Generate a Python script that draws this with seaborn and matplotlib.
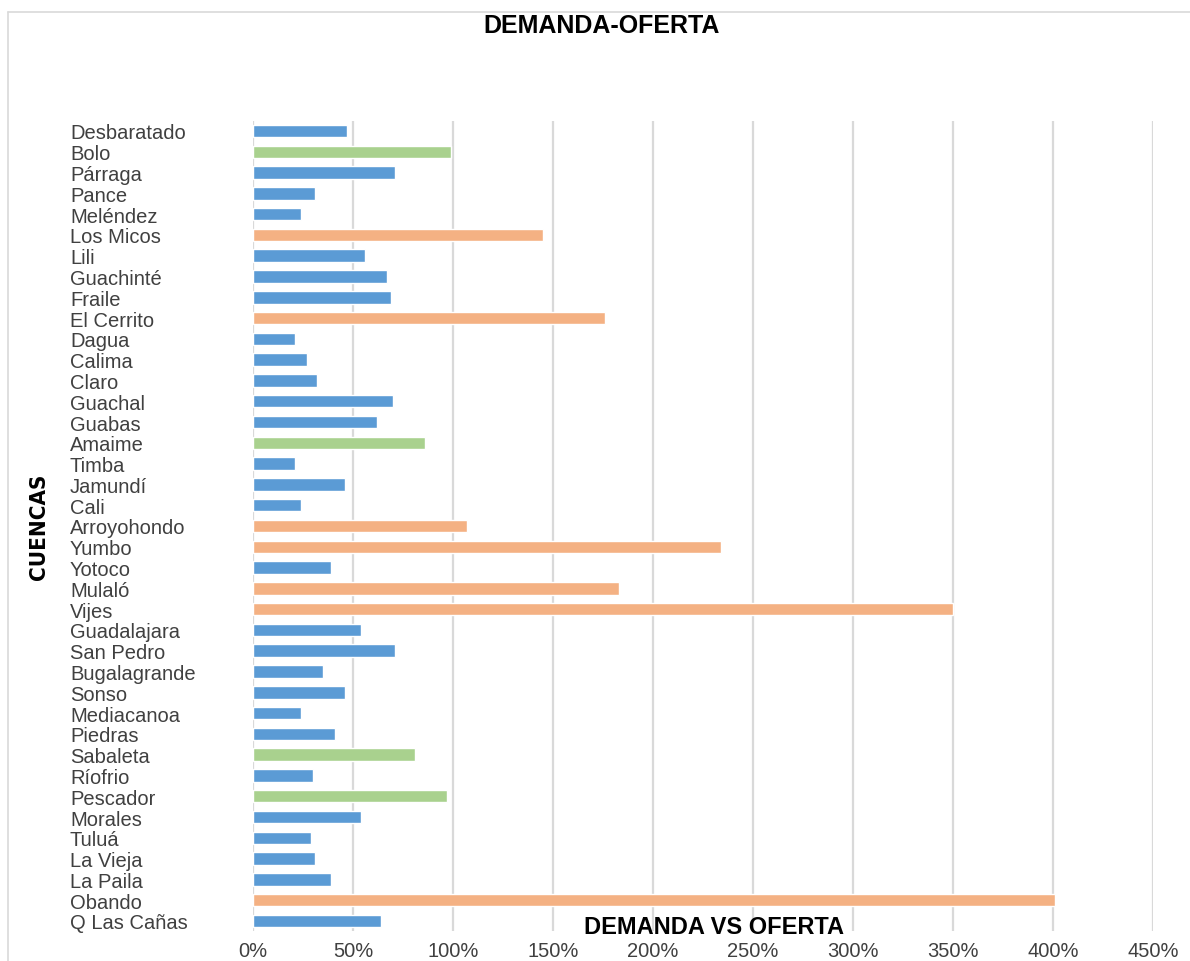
import matplotlib
matplotlib.use("Agg")
import matplotlib.pyplot as plt
from matplotlib.lines import Line2D
from matplotlib.ticker import FuncFormatter
import pandas as pd
import seaborn as sns

# =============================================================================
# Data
# =============================================================================
cuencas = [
    "Desbaratado", "Bolo", "Párraga", "Pance", "Meléndez", "Los Micos", "Lili",
    "Guachinté", "Fraile", "El Cerrito", "Dagua", "Calima", "Claro", "Guachal",
    "Guabas", "Amaime", "Timba", "Jamundí", "Cali", "Arroyohondo", "Yumbo",
    "Yotoco", "Mulaló", "Vijes", "Guadalajara", "San Pedro", "Bugalagrande",
    "Sonso", "Mediacanoa", "Piedras", "Sabaleta", "Ríofrio", "Pescador",
    "Morales", "Tuluá", "La Vieja", "La Paila", "Obando", "Q Las Cañas",
]
demanda_oferta = [
    47, 99, 71, 31, 24, 145, 56,
    67, 69, 176, 21, 27, 32, 70,
    62, 86, 21, 46, 24, 107, 234,
    39, 183, 350, 54, 71, 35,
    46, 24, 41, 81, 30, 97,
    54, 29, 31, 39, 401, 64,
]
estado = [
    "bajo", "medio", "bajo", "bajo", "bajo", "alto", "bajo",
    "bajo", "bajo", "alto", "bajo", "bajo", "bajo", "bajo",
    "bajo", "medio", "bajo", "bajo", "bajo", "alto", "alto",
    "bajo", "alto", "alto", "bajo", "bajo", "bajo",
    "bajo", "bajo", "bajo", "medio", "bajo", "medio",
    "bajo", "bajo", "bajo", "bajo", "alto", "bajo",
]
x_ticks = [0, 50, 100, 150, 200, 250, 300, 350, 400, 450]

colores = {"bajo": "#5B9BD5", "medio": "#A9D18E", "alto": "#F4B183"}

df = pd.DataFrame({"cuenca": cuencas, "valor": demanda_oferta, "estado": estado})

# =============================================================================
# Plot
# =============================================================================
sns.set_theme(style="white")
plt.rcParams["font.family"] = ["Liberation Sans", "DejaVu Sans"]

fig = plt.figure(figsize=(11.9, 9.62), dpi=100)
ax = fig.add_axes([0.2126, 0.0308, 0.7563, 0.8428])

sns.barplot(
    data=df,
    x="valor",
    y="cuenca",
    hue="estado",
    palette=colores,
    dodge=False,
    legend=False,
    width=0.6,
    saturation=1,
    orient="h",
    ax=ax,
)

ax.set_xlim(0, 450)
ax.set_xticks(x_ticks)
ax.xaxis.set_major_formatter(FuncFormatter(lambda v, _: f"{v:.0f}%"))
ax.grid(axis="x", color="#D9D9D9", linewidth=1.6)
ax.set_axisbelow(True)
for s in ax.spines.values():
    s.set_visible(False)

ax.set_xlabel("")
ax.set_ylabel("")
ax.tick_params(axis="x", length=0, pad=7, labelsize=14.5, labelcolor="#404040")
ax.tick_params(axis="y", length=0, pad=131.8, labelsize=14.5, labelcolor="#404040")
for lbl in ax.get_yticklabels():
    lbl.set_horizontalalignment("left")

# titles
fig.text(602 / 1190, 1 - 26 / 962, "DEMANDA-OFERTA", ha="center", va="center",
         fontsize=18, fontweight="bold", color="black")
fig.text(714 / 1190, 1 - 928 / 962, "DEMANDA VS OFERTA", ha="center",
         va="center", fontsize=17, fontweight="bold", color="black")
fig.text(39 / 1190, 1 - 527 / 962, "CUENCAS", ha="center", va="center",
         rotation=90, fontsize=16, fontweight="bold", color="black",
         fontstretch="condensed", family=["DejaVu Sans"])

# light chart-area border (top and left edges are visible in the reference)
fig.add_artist(Line2D([8 / 1190, 8 / 1190], [0, 1 - 13 / 962],
                      transform=fig.transFigure, color="#D9D9D9", linewidth=1.2))
fig.add_artist(Line2D([8 / 1190, 1], [1 - 13 / 962, 1 - 13 / 962],
                      transform=fig.transFigure, color="#D9D9D9", linewidth=1.2))

fig.savefig("out.png", dpi=100)
plt.close(fig)
